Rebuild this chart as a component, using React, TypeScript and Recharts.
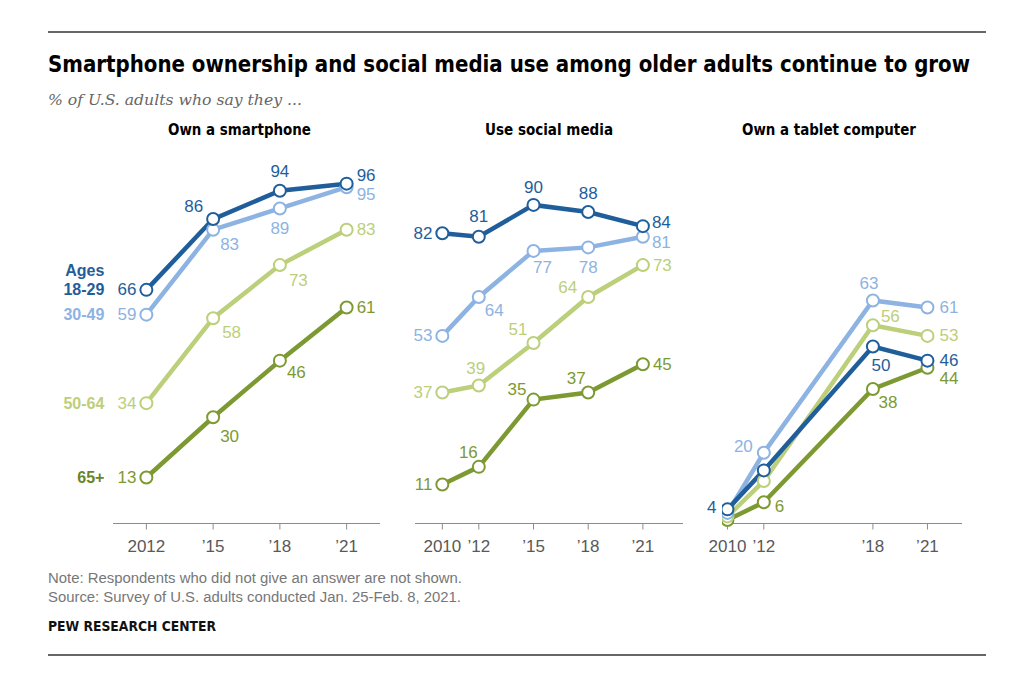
import React from 'react';
import { LineChart, Line, XAxis, YAxis } from 'recharts';

// age groups, drawn bottom-up so 18-29 ends on top
const ageGroups = ['18-29', '30-49', '50-64', '65+'];
const colors: Record<string, string> = {
  '18-29': '#1f5e9b',
  '30-49': '#8db3e2',
  '50-64': '#bccf7a',
  '65+': '#7d9a32',
};

// Own a smartphone
const smartYears = [2012, 2015, 2018, 2021];
const smart1829 = [66, 86, 94, 96];
const smart3049 = [59, 83, 89, 95];
const smart5064 = [34, 58, 73, 83];
const smart65 = [13, 30, 46, 61];

// Use social media
const socialYears = [2010, 2012, 2015, 2018, 2021];
const social1829 = [82, 81, 90, 88, 84];
const social3049 = [53, 64, 77, 78, 81];
const social5064 = [37, 39, 51, 64, 73];
const social65 = [11, 16, 35, 37, 45];

// Own a tablet computer
const tabletYears = [2010, 2012, 2018, 2021];
const tablet1829 = [4, 15, 50, 46];
const tablet3049 = [3, 20, 63, 61];
const tablet5064 = [2, 12, 56, 53];
const tablet65 = [1, 6, 38, 44];

type Place = [number, number, 'start' | 'middle' | 'end'] | null;
const L: Place = [-10, 0, 'end'];
const R: Place = [10, 0, 'start'];

// label placement per panel / age group / point
const smartPlaces: Record<string, Place[]> = {
  '18-29': [L, [-10, -13, 'end'], [0, -19, 'middle'], [10, -8, 'start']],
  '30-49': [L, [7, 15, 'start'], [0, 20, 'middle'], [10, 7, 'start']],
  '50-64': [L, [9, 14, 'start'], [9, 15, 'start'], R],
  '65+': [L, [7, 19, 'start'], [7, 12, 'start'], R],
};
const socialPlaces: Record<string, Place[]> = {
  '18-29': [L, [0, -20, 'middle'], [0, -17, 'middle'], [0, -18, 'middle'], [9, -4, 'start']],
  '30-49': [L, [6, 14, 'start'], [9, 17, 'middle'], [0, 20, 'middle'], [9, 6, 'start']],
  '50-64': [L, [-3, -17, 'middle'], [-6, -13, 'end'], [-11, -9, 'end'], R],
  '65+': [L, [-1, -14, 'end'], [-7, -10, 'end'], [-12, -14, 'middle'], R],
};
const tabletPlaces: Record<string, Place[]> = {
  '18-29': [[-11, -2, 'end'], null, [8, 19, 'middle'], [12, 0, 'start']],
  '30-49': [null, [-11, -6, 'end'], [-4, -17, 'middle'], [12, 0, 'start']],
  '50-64': [null, null, [8, -9, 'start'], [12, 0, 'start']],
  '65+': [null, [11, 4, 'start'], [15, 14, 'middle'], [12, 11, 'start']],
};

const makeRows = (years: number[], series: number[][]) =>
  years.map((year, i) => {
    const row: Record<string, number> = { year };
    ageGroups.forEach((g, k) => (row[g] = series[k][i]));
    return row;
  });

const numFont = "'Liberation Sans', Arial, sans-serif";
const headFont = "'DejaVu Sans Condensed', 'DejaVu Sans', sans-serif";

interface PanelProps {
  rows: Record<string, number>[];
  ticks: number[];
  domain: [number, number];
  left: number;
  right: number;
  places: Record<string, Place[]>;
  legend?: boolean;
}

const Panel = ({ rows, ticks, domain, left, right, places, legend }: PanelProps) => {
  const renderLabel = (group: string) => (p: any) => {
    const place = places[group][p.index];
    if (!place) return null;
    const [dx, dy, anchor] = place;
    const c = colors[group];
    return (
      <g key={`${group}-${p.index}`}>
        <text
          x={p.x + dx}
          y={p.y + dy}
          textAnchor={anchor}
          dominantBaseline="central"
          fill={c}
          fontSize={17}
          fontFamily={numFont}
        >
          {p.value}
        </text>
        {legend && p.index === 0 && (
          <text
            x={p.x - 42}
            y={p.y}
            textAnchor="end"
            dominantBaseline="central"
            fill={group === '65+' ? '#6a8428' : c}
            fontSize={16}
            fontWeight="bold"
            fontFamily={numFont}
          >
            {group}
          </text>
        )}
        {legend && p.index === 0 && group === '18-29' && (
          <text
            x={p.x - 42}
            y={p.y - 19}
            textAnchor="end"
            dominantBaseline="central"
            fill={c}
            fontSize={16}
            fontWeight="bold"
            fontFamily={numFont}
          >
            Ages
          </text>
        )}
      </g>
    );
  };

  return (
    <div style={{ position: 'absolute', left: 0, top: 0 }}>
      <LineChart
        width={1024}
        height={686}
        data={rows}
        margin={{ top: 169.5, right, bottom: 132.5, left }}
      >
        <XAxis
          dataKey="year"
          type="number"
          domain={domain}
          ticks={ticks}
          height={30}
          interval={0}
          tickFormatter={(v: number, i: number) => (i === 0 ? String(v) : '\u2019' + String(v).slice(2))}
          axisLine={{ stroke: '#8c8c8c' }}
          tickLine={{ stroke: '#8c8c8c' }}
          tickSize={6}
          tickMargin={10}
          tick={{ fill: '#595959', fontSize: 17, fontFamily: numFont }}
          allowDataOverflow
        />
        <YAxis hide domain={[0, 100]} />
        {[...ageGroups].reverse().map((g) => (
          <Line
            key={g}
            dataKey={g}
            type="linear"
            stroke={colors[g]}
            strokeWidth={4.5}
            dot={{ r: 6, fill: '#fff', stroke: colors[g], strokeWidth: 2 }}
            activeDot={false}
            label={renderLabel(g)}
            isAnimationActive={false}
          />
        ))}
      </LineChart>
    </div>
  );
};

const App = () => {
  const smartRows = makeRows(smartYears, [smart1829, smart3049, smart5064, smart65]);
  const socialRows = makeRows(socialYears, [social1829, social3049, social5064, social65]);
  const tabletRows = makeRows(tabletYears, [tablet1829, tablet3049, tablet5064, tablet65]);

  return (
    <div style={{ position: 'absolute', left: 0, top: 0, width: 1024, height: 686, background: '#fff' }}>
      <svg width={1024} height={686} style={{ position: 'absolute', left: 0, top: 0 }}>
        <line x1={48} x2={986} y1={32} y2={32} stroke="#333" strokeWidth={1.5} />
        <text x={48} y={72} fontFamily={headFont} fontWeight="bold" fontSize={23} fill="#000" textLength={922} lengthAdjust="spacingAndGlyphs">
          Smartphone ownership and social media use among older adults continue to grow
        </text>
        <text x={48} y={105} fontFamily="'DejaVu Serif Condensed', 'Liberation Serif', serif" fontStyle="italic" fontSize={15} fill="#666" textLength={254} lengthAdjust="spacingAndGlyphs">
          % of U.S. adults who say they ...
        </text>
        <text x={239.5} y={135} textAnchor="middle" fontFamily={headFont} fontWeight="bold" fontSize={15} fill="#000" textLength={143} lengthAdjust="spacingAndGlyphs">
          Own a smartphone
        </text>
        <text x={549} y={135} textAnchor="middle" fontFamily={headFont} fontWeight="bold" fontSize={15} fill="#000" textLength={128} lengthAdjust="spacingAndGlyphs">
          Use social media
        </text>
        <text x={829} y={135} textAnchor="middle" fontFamily={headFont} fontWeight="bold" fontSize={15} fill="#000" textLength={174} lengthAdjust="spacingAndGlyphs">
          Own a tablet computer
        </text>
        <text x={48} y={583} fontFamily={numFont} fontSize={14} fill="#777" textLength={414} lengthAdjust="spacingAndGlyphs">
          Note: Respondents who did not give an answer are not shown.
        </text>
        <text x={48} y={602} fontFamily={numFont} fontSize={14} fill="#777" textLength={413} lengthAdjust="spacingAndGlyphs">
          Source: Survey of U.S. adults conducted Jan. 25-Feb. 8, 2021.
        </text>
        <text x={48} y={631} fontFamily={headFont} fontWeight="bold" fontSize={14} fill="#111" textLength={168} lengthAdjust="spacingAndGlyphs">
          PEW RESEARCH CENTER
        </text>
        <line x1={48} x2={986} y1={655} y2={655} stroke="#333" strokeWidth={1.5} />
      </svg>
      <Panel rows={smartRows} ticks={smartYears} domain={[2010.5, 2022.5]} left={113} right={644} places={smartPlaces} legend />
      <Panel rows={socialRows} ticks={socialYears} domain={[2008.5, 2023.2]} left={415} right={341} places={socialPlaces} />
      <Panel rows={tabletRows} ticks={tabletYears} domain={[2009.7, 2022.9]} left={722} right={62} places={tabletPlaces} />
    </div>
  );
};

export default App;
